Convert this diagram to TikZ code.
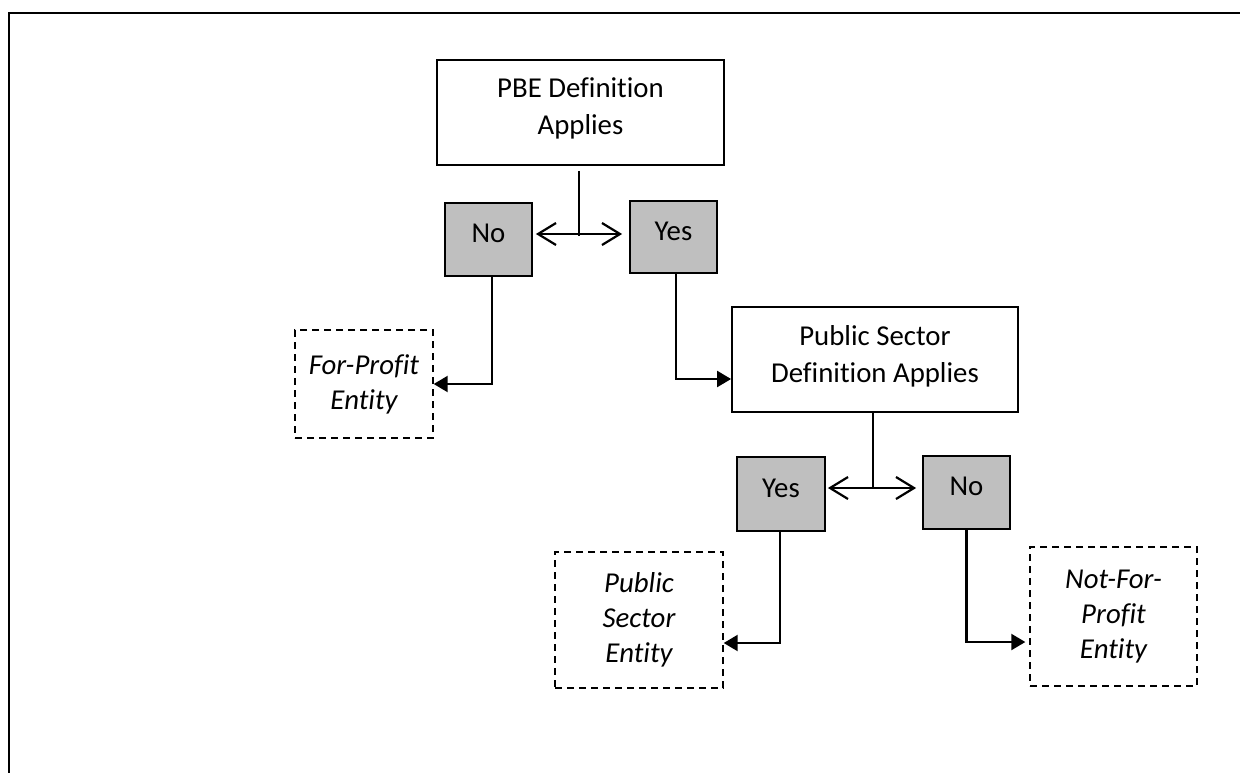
\documentclass[tikz,border=0pt]{standalone}
\usepackage{fontspec}
\setmainfont{Carlito}[Ligatures=NoCommon]
\usetikzlibrary{arrows.meta}
\definecolor{boxgray}{RGB}{191,191,191}
\tikzset{
  txt/.style={font=\fontsize{14.4pt}{18.5pt}\selectfont, align=center, inner sep=0pt},
  defbox/.style={txt, draw, line width=0.9pt, fill=white},
  ansbox/.style={txt, draw, line width=0.9pt, fill=boxgray, text depth=6pt},
  outbox/.style={txt, draw, line width=0.7pt, dash pattern=on 3.5pt off 2.5pt,
     font=\fontsize{14.4pt}{17.5pt}\selectfont\itshape},
  conn/.style={line width=0.75pt},
  dbl/.style={line width=1.1pt, {Straight Barb[length=9pt,width=11pt,line width=1.1pt]}-{Straight Barb[length=9pt,width=11pt,line width=1.1pt]}},
  fl/.style={line width=1.1pt, -{Triangle[length=7pt,width=8pt]}},
}
\begin{document}
\begin{tikzpicture}[x=0.5pt,y=-0.5pt]
\useasboundingbox (0,0) rectangle (1240,772);
\clip (0,0) rectangle (1240,772);
\draw[line width=1.2pt] (9,13) rectangle (1270,800);

\node[defbox, minimum width=143.5pt, minimum height=52.5pt, text depth=6pt] (pbe) at (580.5,112.5) {PBE Definition\\Applies};
\node[ansbox, minimum width=43.5pt, minimum height=36.5pt] (no) at (488.5,239.5) {No};
\node[ansbox, minimum width=43.5pt, minimum height=36pt] (yes) at (673.5,237) {Yes};
\node[outbox, minimum width=69pt, minimum height=54pt] (fp) at (364,384) {For-Profit\\Entity};
\node[defbox, minimum width=143pt, minimum height=52.5pt, text depth=6pt] (ps) at (875,359.5) {Public Sector\\Definition Applies};
\node[ansbox, minimum width=44pt, minimum height=37pt] (yes2) at (781,494) {Yes};
\node[ansbox, minimum width=43.5pt, minimum height=36.5pt] (no2) at (966.5,492.5) {No};
\node[outbox, minimum width=84pt, minimum height=68pt] (pse) at (639,620) {Public\\Sector\\Entity};
\node[outbox, minimum width=83.5pt, minimum height=69.5pt] (nfp) at (1113.5,616.5) {Not-For-\\Profit\\Entity};

\coordinate (j1) at (579,234);
\draw[conn, shorten <=2.5pt] (pbe.south -| j1) -- ([yshift=-1pt]j1);
\draw[dbl, shorten <=1.5pt, shorten >=3.5pt] (no.east |- j1) -- (yes.west |- j1);
\draw[fl] ([xshift=1.75pt]no.south) |- (fp.east);
\draw[fl] ([xshift=1.25pt]yes.south) |- ([yshift=-9.75pt]ps.west);

\coordinate (j2) at (873,488);
\draw[conn] (ps.south -| j2) -- (j2);
\draw[dbl, shorten <=1pt, shorten >=3pt] (yes2.east |- j2) -- (no2.west |- j2);
\draw[fl] ([xshift=-0.5pt]yes2.south) |- ([yshift=-11.5pt]pse.east);
\draw[fl, shorten >=2pt] (no2.south) |- ([yshift=-12.75pt]nfp.west);
\end{tikzpicture}
\end{document}
